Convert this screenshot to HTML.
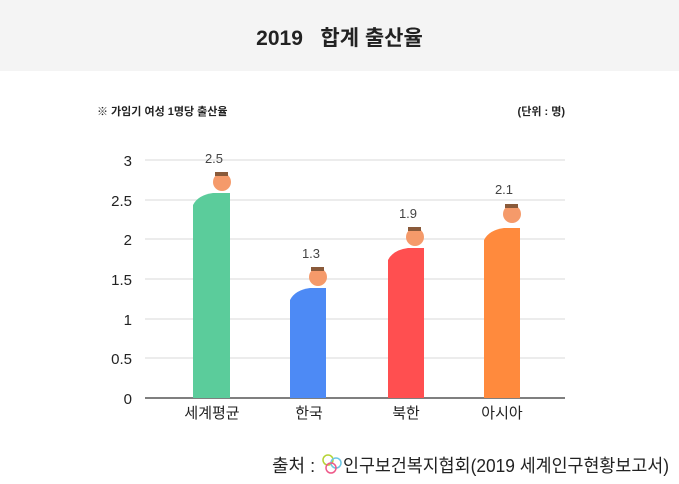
<!DOCTYPE html>
<html><head><meta charset="utf-8"><style>
body{margin:0;width:679px;height:484px;background:#fff;font-family:"Liberation Sans","Noto Sans CJK KR",sans-serif;overflow:hidden;position:relative}
.hd{position:absolute;left:0;top:0;width:679px;height:71px;background:#f4f4f4}
.t{position:absolute;left:0;width:679px;top:22px;text-align:center;font-size:21px;color:#222;font-weight:bold}
</style></head><body>
<div class="hd"></div>
<div class="t">2019&nbsp;&nbsp; 합계 출산율</div>
<svg width="679" height="484" style="position:absolute;left:0;top:0" font-family="Liberation Sans, Noto Sans CJK KR, sans-serif">
<text x="97" y="115" font-size="11" fill="#222" font-weight="bold">※ 가임기 여성 1명당 출산율</text>
<text x="565" y="115" font-size="11" fill="#222" text-anchor="end" font-weight="bold">(단위 : 명)</text>
<g stroke="#e6e6e6" stroke-width="1.5">
<line x1="145" x2="565" y1="160" y2="160"/><line x1="145" x2="565" y1="200" y2="200"/>
<line x1="145" x2="565" y1="239" y2="239"/><line x1="145" x2="565" y1="279" y2="279"/>
<line x1="145" x2="565" y1="319" y2="319"/><line x1="145" x2="565" y1="358" y2="358"/>
</g>
<line x1="145" x2="565" y1="398" y2="398" stroke="#555" stroke-width="1.5"/>
<g font-size="15" fill="#222" text-anchor="end">
<text x="132" y="166">3</text><text x="132" y="206">2.5</text><text x="132" y="245">2</text>
<text x="132" y="285">1.5</text><text x="132" y="325">1</text><text x="132" y="364">0.5</text><text x="132" y="404">0</text>
</g>
<g font-size="15" fill="#222" text-anchor="middle">
<text x="212" y="418">세계평균</text><text x="309" y="418">한국</text><text x="406" y="418">북한</text><text x="502" y="418">아시아</text>
</g>
<g font-size="13" fill="#444" text-anchor="middle">
<text x="214" y="163">2.5</text><text x="311" y="258">1.3</text><text x="408" y="218">1.9</text><text x="504" y="194">2.1</text>
</g>
<g>
<path d="M193,398V205q5,-10 20,-12h17V398z" fill="#5bcc9b"/>
<circle cx="222" cy="182" r="9" fill="#f59a6a"/><rect x="215" y="172" width="13" height="4" fill="#8a5a3a"/>
<path d="M290,398V300q5,-10 20,-12h16V398z" fill="#4d8af5"/>
<circle cx="318" cy="277" r="9" fill="#f59a6a"/><rect x="311" y="267" width="13" height="4" fill="#8a5a3a"/>
<path d="M388,398V260q5,-10 20,-12h16V398z" fill="#ff4f50"/>
<circle cx="415" cy="237" r="9" fill="#f59a6a"/><rect x="408" y="227" width="13" height="4" fill="#8a5a3a"/>
<path d="M484,398V240q5,-10 20,-12h16V398z" fill="#ff8a3d"/>
<circle cx="512" cy="214" r="9" fill="#f59a6a"/><rect x="505" y="204" width="13" height="4" fill="#8a5a3a"/>
</g>
<text x="272" y="472" font-size="18" fill="#222">출처 :</text>
<circle cx="328" cy="460" r="5" fill="none" stroke="#b5d334" stroke-width="1.5"/>
<circle cx="336" cy="463" r="5" fill="none" stroke="#6cc7e5" stroke-width="1.5"/>
<circle cx="331" cy="468" r="5" fill="none" stroke="#ee5a8a" stroke-width="1.5"/>
<text x="343" y="472" font-size="18" fill="#222" textLength="326" lengthAdjust="spacingAndGlyphs">인구보건복지협회(2019 세계인구현황보고서)</text>
</svg>
</body></html>
